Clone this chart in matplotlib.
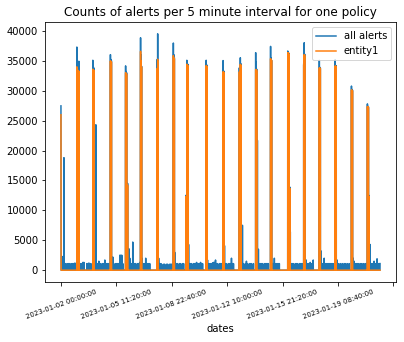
import numpy as np
import pandas as pd
import matplotlib
matplotlib.use("Agg")
import matplotlib.pyplot as plt
from matplotlib.ticker import MultipleLocator, FuncFormatter

# 5 minute intervals, 2023-01-02 00:00 .. 2023-01-22 00:00
n_intervals = 5761
first_interval = "2023-01-02 00:00:00"

# quiet-time alert counts, one reading every 18 intervals (90 min)
quiet_alerts = (
    [0, 2300, 2000, 18800, 1100, 1100, 0, 1100, 1100, 1100, 0, 1100, 1100, 1100, 1200, 0]
    + [0, 0, 0]
    + [1100, 1100, 1100, 1300, 1300, 0, 0, 1100, 1100, 1200, 1100, 1100, 0]
    + [0]
    + [2500, 1100, 24300, 1100, 1100, 1500, 1100, 1100, 0, 1100, 1100, 1700, 0, 1100, 1100, 1100, 0]
    + [0]
    + [1100, 2200, 1100, 0, 1100, 1100, 1100, 1100, 2500, 2500, 2500, 1100, 0, 0]
    + [0]
    + [0, 0, 3600, 2000, 1100, 1100, 4700, 1100, 1100, 1100, 0, 1100, 1100, 1300]
    + [0]
    + [2000, 1100, 1100, 1100, 2000, 1100, 1100, 1100, 1100, 0, 0, 0, 0, 0, 0, 0]
    + [0]
    + [2000, 1100, 1100, 1000, 0, 1000, 1000, 0, 1000, 1000, 0, 1000, 1000, 1000, 0]
    + [0]
    + [3000, 1100, 1100, 1100, 0, 1100, 1100, 0, 1100, 1100, 0, 0, 0]
    + [0]
    + [4300, 1100, 1100, 1100, 0, 1100, 1100, 1100, 1300, 1100, 1100, 1100, 1300, 1100, 1100, 0, 0, 0]
    + [0]
    + [1700, 1100, 1100, 1100, 1100, 1200, 1300, 1300, 1700, 1100, 1100, 0, 1100, 1100, 1100, 0]
    + [0]
    + [4100, 1100, 1100, 0, 1100, 1100, 1100, 2000, 1100, 1100, 0, 0, 0, 0, 0]
    + [0]
    + [1100, 1100, 7500, 1100, 0, 1100, 1500, 1100, 0, 1100, 1100, 1100, 0, 1100, 0, 0]
    + [0]
    + [21700, 3500, 1100, 1100, 1100, 1100, 0, 1100, 1100, 1100, 1100, 1100, 0, 0]
    + [0]
    + [1100, 1100, 2000, 1100, 1100, 1100, 1100, 1100, 0, 0, 0, 0, 0, 0, 0, 0]
    + [0]
    + [0, 6400, 1100, 1100, 1100, 0, 1100, 1100, 1100, 0, 1100, 1100, 1100, 1100, 0]
    + [0]
    + [1100, 1700, 1100, 1100, 1100, 1300, 1100, 1100, 1700, 0, 0, 0, 0, 0, 0]
    + [0]
    + [3200, 1100, 1100, 2000, 1100, 1100, 1100, 1100, 1100, 1100, 1100, 1100, 1100, 0, 0]
    + [0]
    + [1700, 1100, 0, 1100, 0, 1100, 0, 1100, 1100, 0, 1100, 0, 1100, 0, 0]
    + [0]
    + [2000, 1500, 1100, 1100, 1100, 1100, 0, 1100, 1100, 0, 1100, 0, 1100, 1100, 0]
    + [0]
    + [0, 4300, 1100, 1100, 1100, 1500, 1100, 1100, 1900, 1100, 1100, 1100]
)

# daily bursts: first interval of the burst, then readings every 9 intervals
burst_start = [0, 287, 575, 893, 1167, 1437, 1737, 2029, 2254, 2622,
               2927, 3220, 3515, 3784, 4094, 4382, 4664, 4951, 5244, 5532]
burst_alerts = [
    [27460],
    [37290, 34000, 33600, 33600, 34920],
    [35080, 34000, 33800],
    [36020, 35200, 35000],
    [34140, 33200, 33000, 0, 14500],
    [38840, 36000, 34090],
    [35190, 39500, 35000],
    [37960, 36000, 35500],
    [12500, 0, 35080, 34500, 34400],
    [35080, 34300, 34200],
    [35030, 33300, 33200],
    [33810, 33500, 35500, 34500],
    [36350, 34750, 33600],
    [37400, 35500, 35080],
    [36630, 36400, 36300, 0, 13900],
    [34500, 38010, 36100],
    [35080, 33900, 33800],
    [35190, 34200, 34100],
    [30770, 30200, 30100],
    [27790, 27400, 27300, 12500],
]
burst_entity = [
    [25970],
    [33980, 33600, 33300, 33300, 33260],
    [33590, 33500, 33400],
    [34970, 34900, 34800],
    [32980, 32900, 32800, 0, 14200],
    [36570, 35000, 33980],
    [33700, 35250, 34800],
    [35860, 35500, 35300],
    [12300, 0, 34420, 34300, 34200],
    [34200, 34100, 34000],
    [33150, 33100, 33000],
    [33150, 33100, 34400, 34300],
    [33540, 33500, 33400],
    [35360, 35200, 35080],
    [36350, 36300, 36200, 0, 13700],
    [34300, 36020, 35900],
    [33810, 33800, 33700],
    [34140, 34100, 34000],
    [30110, 30100, 30000],
    [27350, 27300, 27200, 12300],
]

dates = pd.date_range(first_interval, periods=n_intervals, freq="5min").strftime("%Y-%m-%d %H:%M:%S")

all_alerts = np.zeros(n_intervals)
entity1 = np.zeros(n_intervals)
all_alerts[::18] = quiet_alerts
for start, a_vals, e_vals in zip(burst_start, burst_alerts, burst_entity):
    pos = start + 9 * np.arange(len(a_vals))
    all_alerts[pos] = a_vals
    entity1[pos] = e_vals

df = pd.DataFrame({"all alerts": all_alerts, "entity1": entity1}, index=dates)

fig = plt.figure(figsize=(404 / 72, 342 / 72), dpi=72)
ax = fig.add_axes([45 / 404, 1 - 282 / 342, 351 / 404, 260 / 342])

x = np.arange(len(df))
ax.plot(x, df["all alerts"], label="all alerts")
ax.plot(x, df["entity1"], label="entity1")

ax.xaxis.set_major_locator(MultipleLocator(1000))
ax.xaxis.set_major_formatter(FuncFormatter(lambda v, p: df.index[int(v)] if 0 <= v < len(df) else ""))
ax.tick_params(axis="x", labelrotation=20, labelsize=7)

ax.set_xlabel("dates")
ax.set_title("Counts of alerts per 5 minute interval for one policy")
ax.legend(loc="upper right")

fig.savefig("out.png", dpi=72)
